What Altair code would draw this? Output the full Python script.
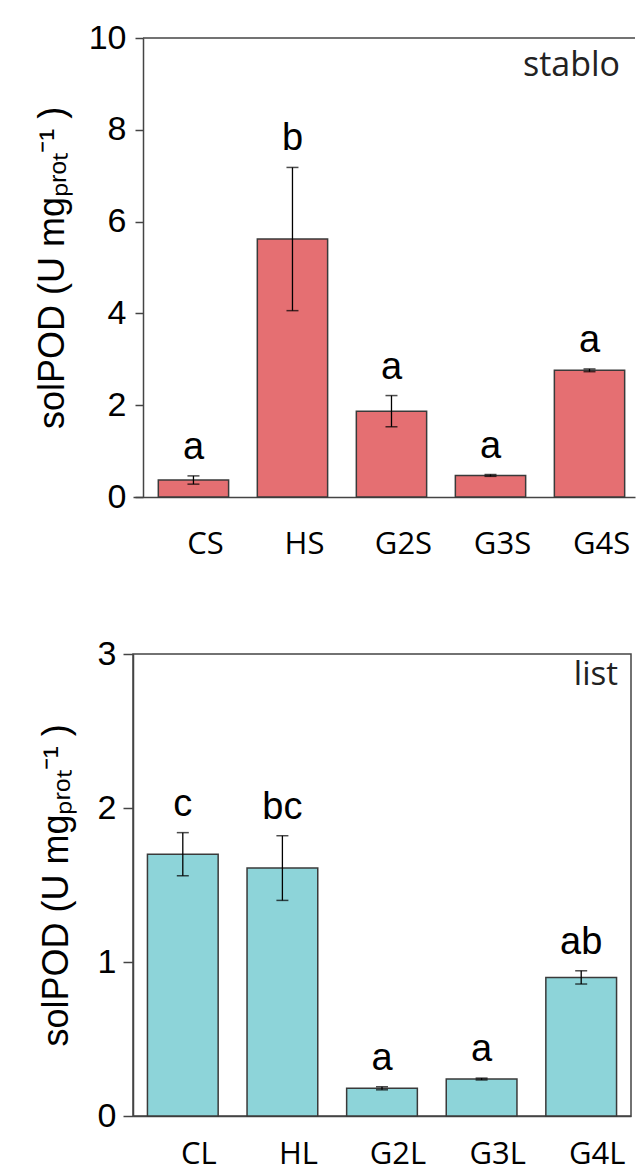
import altair as alt
import pandas as pd

# ---- data ----
stem_cats = ["CS", "HS", "G2S", "G3S", "G4S"]
stem_means = [0.37, 5.62, 1.87, 0.47, 2.76]
stem_errs = [0.09, 1.56, 0.34, 0.02, 0.03]
stem_letters = ["a", "b", "a", "a", "a"]

leaf_cats = ["CL", "HL", "G2L", "G3L", "G4L"]
leaf_means = [1.70, 1.61, 0.18, 0.24, 0.90]
leaf_errs = [0.14, 0.21, 0.01, 0.006, 0.043]
leaf_letters = ["c", "bc", "a", "a", "ab"]

y_title = "solPOD (U mgₚᵣₒₜ⁻¹ )"
LINE = "#444444"


def panel(cats, means, errs, letters, color, ymax, step, label, w, h,
          title_pad, tick_size, label_pad, label_dx, label_y, tag_x, tag_y, tag_size,
          pad_outer, band_align, axis_offset, open_right):
    df = pd.DataFrame({"cat": cats, "mean": means, "err": errs, "letter": letters})
    df["lo"] = df["mean"] - df["err"]
    df["hi"] = df["mean"] + df["err"]

    xaxis = alt.Axis(title=None, labels=False, ticks=False)
    xscale = alt.Scale(paddingInner=0.29, paddingOuter=pad_outer, align=band_align)
    xs = alt.X("cat:N", sort=cats, scale=xscale, axis=xaxis)
    yscale = alt.Scale(domain=[0, ymax], nice=False, zero=True)
    yaxis = alt.Axis(title=y_title, values=list(range(0, ymax + 1, step)),
                     grid=False, tickSize=tick_size, labelPadding=label_pad,
                     labelFont="Liberation Sans", labelFontSize=34,
                     labelColor="black", titleFont="Liberation Sans",
                     titleFontSize=36, titleFontWeight="normal",
                     titleColor="black", titlePadding=title_pad,
                     offset=axis_offset)

    def Y(field):
        return alt.Y(field, scale=yscale, axis=yaxis, title=y_title)

    bars = alt.Chart(df).mark_bar(color=color, stroke="#3a3a3a", strokeWidth=1.5).encode(
        x=xs, y=Y("mean:Q"))
    rule = alt.Chart(df).mark_rule(color="black", strokeWidth=1.3).encode(
        x=xs, y=Y("lo:Q"), y2="hi:Q")
    cap_hi = alt.Chart(df).mark_tick(color="black", size=12, thickness=1.5,
                                     orient="horizontal").encode(x=xs, y=Y("hi:Q"))
    cap_lo = alt.Chart(df).mark_tick(color="black", size=12, thickness=1.5,
                                     orient="horizontal").encode(x=xs, y=Y("lo:Q"))
    letters_l = alt.Chart(df).mark_text(font="Liberation Sans", fontSize=38,
                                        baseline="alphabetic", dy=-17,
                                        color="black").encode(
        x=xs, y=Y("hi:Q"), text="letter:N")
    cat_labels = alt.Chart(df).mark_text(font="Open Sans", fontSize=31,
                                         baseline="middle", dx=label_dx,
                                         color="black").encode(
        x=xs, y=alt.value(h + label_y), text="cat:N")
    tag = alt.Chart(pd.DataFrame({"t": [label]})).mark_text(
        font="Open Sans", fontSize=tag_size, align="right", baseline="top",
        color="#222").encode(
        x=alt.value(w - tag_x), y=alt.value(tag_y), text="t:N")

    layers = [bars, rule, cap_hi, cap_lo, letters_l, cat_labels, tag]
    props = dict(width=w, height=h)
    if open_right:
        # panel frame: only the top edge is drawn (right edge lies beyond the page)
        top_edge = alt.Chart(pd.DataFrame({"t": [label]})).mark_rule(
            color=LINE, strokeWidth=1.5).encode(
            x=alt.value(-axis_offset), x2=alt.value(w), y=alt.value(0))
        layers.append(top_edge)
        props["view"] = alt.ViewBackground(stroke="transparent")
    return alt.layer(*layers).properties(**props)


top = panel(stem_cats, stem_means, stem_errs, stem_letters, "#e56f72", 10, 2,
            "stablo", 502, 459, 17, 8, 9, 12, 48, 15, 11, 34, 0.18, 0.71, -10, True)
bottom = panel(leaf_cats, leaf_means, leaf_errs, leaf_letters, "#8dd4d9", 3, 1,
               "list", 498, 462, 22, 10, 7, 16, 39, 13, 5, 33, 0.145, 0.5, 0, False)

chart = alt.concat(top, bottom, columns=1, spacing=75).properties(
    padding={"left": 33, "top": 20, "right": 0, "bottom": 4},
    background="white",
).configure_view(stroke=LINE, strokeWidth=1.5).configure_axis(
    domainColor=LINE, domainWidth=1.5, tickColor=LINE, tickWidth=1.5)

chart.save("out.html", embed_options={"renderer": "svg", "actions": False})
